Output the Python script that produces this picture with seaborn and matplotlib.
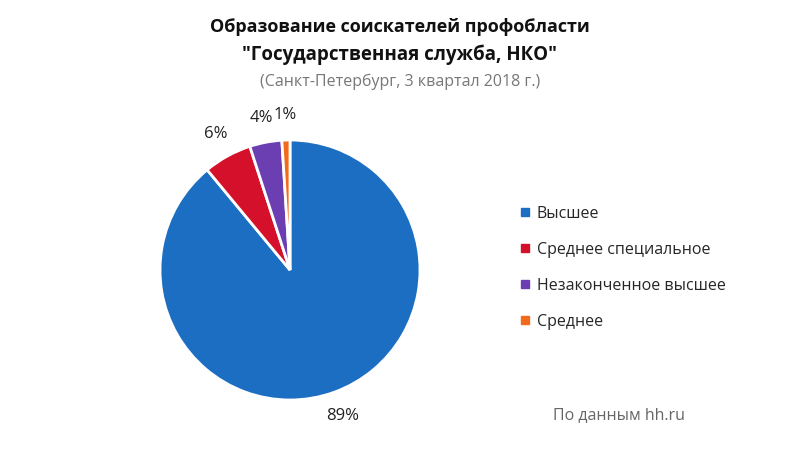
import matplotlib
matplotlib.use("Agg")
import matplotlib.pyplot as plt
from matplotlib.lines import Line2D
import seaborn as sns

categories = ["Высшее", "Среднее специальное", "Незаконченное высшее", "Среднее"]
values = [89, 6, 4, 1]
colors = ["#1b6ec2", "#d5102b", "#6b3fb2", "#f26b1d"]

sns.set_theme(style="white")
plt.rcParams['font.family'] = ['Open Sans', 'Noto Sans', 'DejaVu Sans']

fig = plt.figure(figsize=(8, 4.5), dpi=100)
fig.patch.set_facecolor("white")

ax = fig.add_axes([160/800, 50/450, 260/800, 260/450])
wedges, texts = ax.pie(
    values, colors=sns.color_palette(colors), startangle=90, counterclock=False,
    labels=[f"{v}%" for v in values], labeldistance=1.19,
    wedgeprops=dict(edgecolor="white", linewidth=2),
    textprops=dict(fontsize=12, color="#222222"),
)
for t in texts:
    t.set_ha("center")
    t.set_va("center")
ax.set_xlim(-1, 1)
ax.set_ylim(-1, 1)
ax.set_aspect("equal")
ax.axis("off")

fig.text(0.5, 1 - 27/450, "Образование соискателей профобласти", ha="center", va="center",
         fontsize=13, fontweight="bold", color="#111111")
fig.text(0.5, 1 - 55/450, "\"Государственная служба, НКО\"", ha="center", va="center",
         fontsize=13.5, fontweight="bold", color="#111111")
fig.text(0.5, 1 - 82/450, "(Санкт-Петербург, 3 квартал 2018 г.)", ha="center", va="center",
         fontsize=11.5, color="#777777")
fig.text(553/800, 1 - 415/450, "По данным hh.ru", ha="left", va="center",
         fontsize=11.5, color="#666666")

handles = [Line2D([0], [0], marker="s", linestyle="", markersize=6,
                  markerfacecolor=c, markeredgecolor=c) for c in colors]
fig.legend(handles, categories, loc="center left", bbox_to_anchor=(511/800, 1 - 268/450),
           frameon=False, fontsize=11.5, labelspacing=1.25, handletextpad=0.2,
           handlelength=1.0, borderaxespad=0)

fig.savefig("out.png", dpi=100, facecolor="white")
